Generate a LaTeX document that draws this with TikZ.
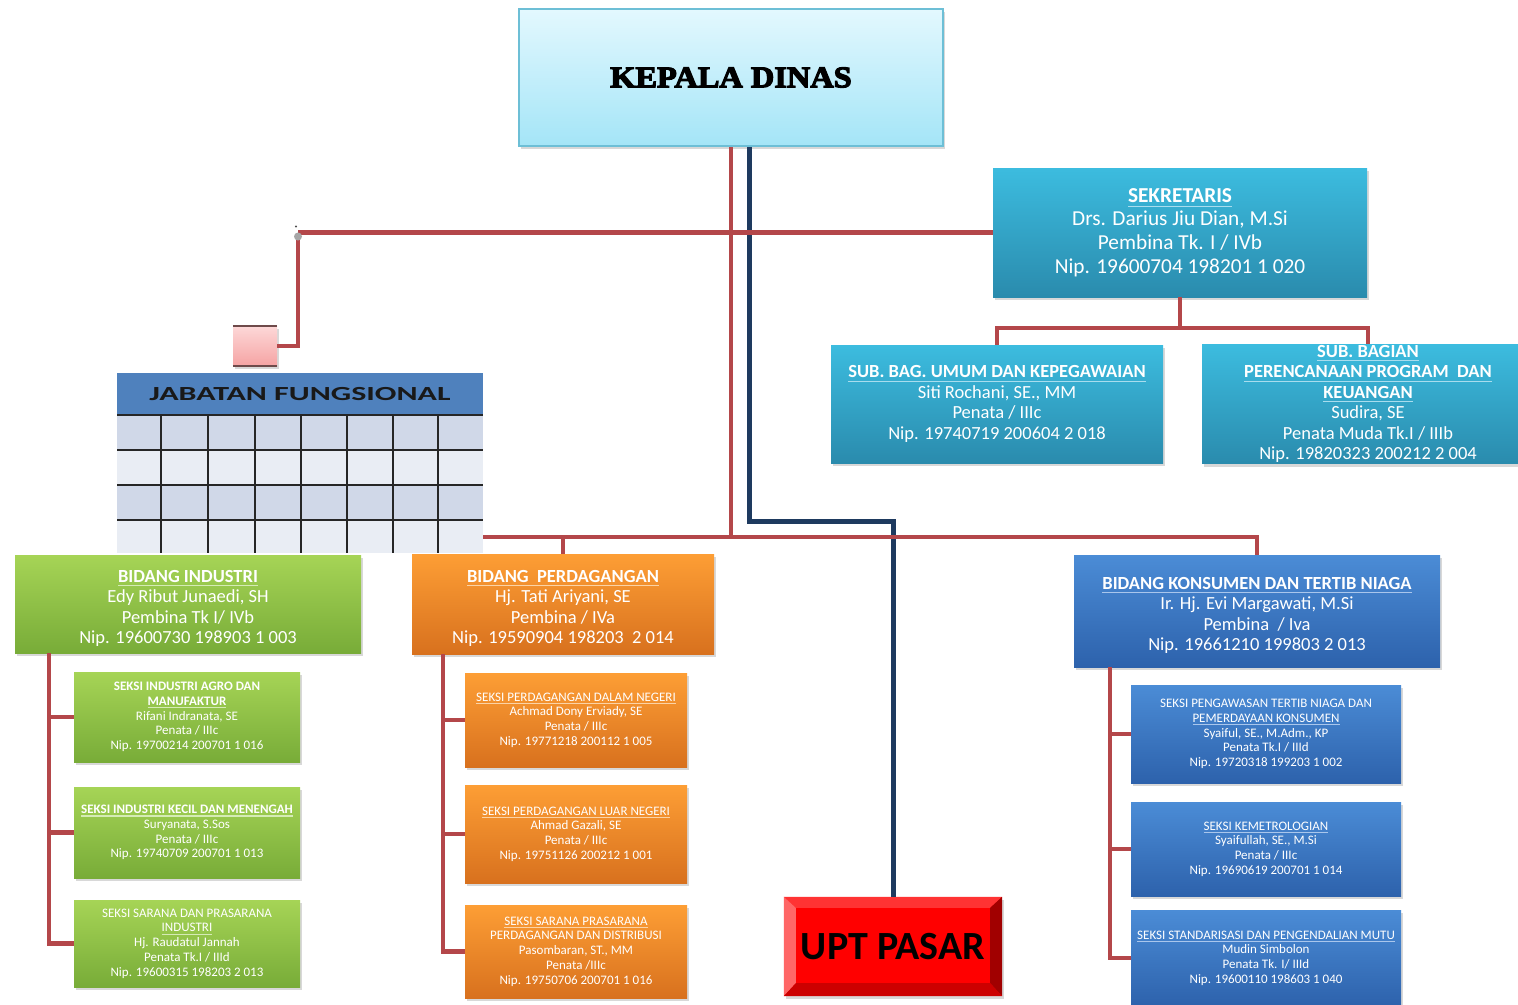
\documentclass[tikz,border=0pt]{standalone}
\usepackage{fontspec}
\setmainfont{Carlito}
\newfontfamily\kdfont[UprightFont={* Bold}, UprightFeatures={FakeBold=4, FakeStretch=1.08}]{Liberation Serif}
\usetikzlibrary{shadows,calc}
\definecolor{redL}{HTML}{B4474A}
\definecolor{blueL}{HTML}{1E3A5F}
\definecolor{kdT}{HTML}{E3F8FE}
\definecolor{kdB}{HTML}{A4E5F7}
\definecolor{kdD}{HTML}{6DBFD6}
\definecolor{tealT}{HTML}{3CBCDF}
\definecolor{tealB}{HTML}{2A8BAD}
\definecolor{tealU}{HTML}{A8DDEE}
\definecolor{greenT}{HTML}{A6D456}
\definecolor{greenB}{HTML}{78AC38}
\definecolor{greenU}{HTML}{D5EBB5}
\definecolor{orangeT}{HTML}{FD9E35}
\definecolor{orangeB}{HTML}{D8711E}
\definecolor{orangeU}{HTML}{FBD3A6}
\definecolor{blueT}{HTML}{4B8CD6}
\definecolor{blueB}{HTML}{2D62AC}
\definecolor{blueU}{HTML}{A9C6EC}
\definecolor{pinkT}{HTML}{FDD8D8}
\definecolor{pinkB}{HTML}{F5A3A3}
\definecolor{pinkD}{HTML}{6E4A4A}
\definecolor{hdr}{HTML}{4F81BD}
\definecolor{rowA}{HTML}{D0D8E8}
\definecolor{rowB}{HTML}{E9EDF4}
\newcommand\fsz[2]{\fontsize{#1}{#2}\selectfont}
\newcommand\myul[2]{\leavevmode\setbox0\hbox{#2}\rlap{\copy0}\raisebox{-0.22em}{\textcolor{#1}{\rule{\wd0}{1.2pt}}}}
\newcommand\pushdown{\rule{0pt}{21pt}}
\tikzset{
  redl/.style={draw=redL, line width=4.5pt},
  bluel/.style={draw=blueL, line width=5pt},
  box/.style={align=center, text=white, inner sep=1pt,
    drop shadow={shadow xshift=2pt, shadow yshift=-3pt, opacity=0.3}},
  tealbox/.style={box, top color=tealT, bottom color=tealB},
  greenbox/.style={box, top color=greenT, bottom color=greenB},
  orangebox/.style={box, top color=orangeT, bottom color=orangeB},
  bluebox/.style={box, top color=blueT, bottom color=blueB},
  big/.style={font=\fsz{18.5}{20.5}},
  small/.style={font=\fsz{13}{14.7}},
  gridl/.style={draw=black!85, line width=2pt},
}
\begin{document}
\begin{tikzpicture}[x=1pt,y=-1pt]
\useasboundingbox (0,0) rectangle (1518,1004);
\fill[white] (0,0) rectangle (1518,1004);

% ---------- main boxes ----------
\node[draw=kdD, line width=2pt, top color=kdT, bottom color=kdB,
  drop shadow={shadow xshift=2pt, shadow yshift=-3pt, opacity=0.3},
  minimum width=424pt, minimum height=137pt] (kd) at (731,77.5)
  {\kdfont\fsz{30}{32}KEPALA DINAS};

\node[tealbox, minimum width=374pt, minimum height=129pt, font=\fsz{21.3}{23.7}] (sek) at (1180,232.5)
  {\myul{tealU}{\bfseries SEKRETARIS}\\Drs. Darius Jiu Dian, M.Si\\Pembina Tk. I / IVb\\Nip. 19600704 198201 1 020};

\node[tealbox, big, minimum width=332pt, minimum height=118pt] (sbu) at (997,404)
  {\myul{tealU}{\bfseries SUB. BAG. UMUM DAN KEPEGAWAIAN}\\Siti Rochani, SE., MM\\Penata / IIIc\\Nip. 19740719 200604 2 018};

\node[tealbox, big, minimum width=332pt, minimum height=118pt] (sbp) at (1368,404)
  {\myul{tealU}{\bfseries SUB. BAGIAN}\\\myul{tealU}{\bfseries PERENCANAAN PROGRAM\ \ DAN}\\\myul{tealU}{\bfseries KEUANGAN}\\Sudira, SE\\Penata Muda Tk.I / IIIb\\Nip. 19820323 200212 2 004};

\node[greenbox, big, minimum width=346pt, minimum height=98pt] (ind) at (188,604)
  {\pushdown\myul{greenU}{\bfseries BIDANG INDUSTRI}\\Edy Ribut Junaedi, SH\\Pembina Tk I/ IVb\\Nip. 19600730 198903 1 003};

\node[orangebox, big, minimum width=302pt, minimum height=100pt] (per) at (563,604)
  {\pushdown\myul{orangeU}{\bfseries BIDANG\ \ PERDAGANGAN}\\Hj. Tati Ariyani, SE\\Pembina / IVa\\Nip. 19590904 198203\ \ 2 014};

\node[bluebox, big, minimum width=366pt, minimum height=112pt] (kon) at (1257,611)
  {\pushdown\myul{blueU}{\bfseries BIDANG KONSUMEN DAN TERTIB NIAGA}\\Ir. Hj. Evi Margawati, M.Si\\Pembina\ \ / Iva\\Nip. 19661210 199803 2 013};

% ---------- seksi ----------
\node[greenbox, small, minimum width=226pt, minimum height=90pt] (i1) at (187,717)
  {{\bfseries SEKSI INDUSTRI AGRO DAN}\\\myul{greenU}{\bfseries MANUFAKTUR}\\Rifani Indranata, SE\\Penata / IIIc\\Nip. 19700214 200701 1 016};
\node[greenbox, small, minimum width=226pt, minimum height=91pt] (i2) at (187,832.5)
  {\myul{greenU}{\bfseries SEKSI INDUSTRI KECIL DAN MENENGAH}\\Suryanata, S.Sos\\Penata / IIIc\\Nip. 19740709 200701 1 013};
\node[greenbox, small, minimum width=226pt, minimum height=87pt] (i3) at (187,943.5)
  {SEKSI SARANA DAN PRASARANA\\\myul{greenU}{INDUSTRI}\\Hj. Raudatul Jannah\\Penata Tk.I / IIId\\Nip. 19600315 198203 2 013};

\node[orangebox, small, minimum width=222pt, minimum height=94pt] (p1) at (576,720)
  {\myul{orangeU}{SEKSI PERDAGANGAN DALAM NEGERI}\\Achmad Dony Erviady, SE\\Penata / IIIc\\Nip. 19771218 200112 1 005};
\node[orangebox, small, minimum width=222pt, minimum height=98pt] (p2) at (576,834)
  {\myul{orangeU}{SEKSI PERDAGANGAN LUAR NEGERI}\\Ahmad Gazali, SE\\Penata / IIIc\\Nip. 19751126 200212 1 001};
\node[orangebox, small, minimum width=222pt, minimum height=93pt] (p3) at (576,951.5)
  {\myul{orangeU}{SEKSI SARANA PRASARANA}\\PERDAGANGAN DAN DISTRIBUSI\\Pasombaran, ST., MM\\Penata /IIIc\\Nip. 19750706 200701 1 016};

\node[bluebox, small, minimum width=270pt, minimum height=98pt] (k1) at (1266,734)
  {SEKSI PENGAWASAN TERTIB NIAGA DAN\\\myul{blueU}{PEMERDAYAAN KONSUMEN}\\Syaiful, SE., M.Adm., KP\\Penata Tk.I / IIId\\Nip. 19720318 199203 1 002};
\node[bluebox, small, minimum width=270pt, minimum height=94pt] (k2) at (1266,849)
  {\myul{blueU}{SEKSI KEMETROLOGIAN}\\Syaifullah, SE., M.Si\\Penata / IIIc\\Nip. 19690619 200701 1 014};
\node[bluebox, small, minimum width=270pt, minimum height=96pt] (k3) at (1266,958)
  {\myul{blueU}{SEKSI STANDARISASI DAN PENGENDALIAN MUTU}\\Mudin Simbolon\\Penata Tk. I/ IIId\\Nip. 19600110 198603 1 040};

% ---------- UPT PASAR ----------
\node[fill=red, minimum width=218pt, minimum height=99pt, font=\bfseries\fsz{40}{42}, text=black,
  drop shadow={shadow xshift=2pt, shadow yshift=-3pt, opacity=0.3}] (upt) at (893,946.5) {UPT PASAR};
\fill[red!80!white] (upt.north west) -- (upt.north east) -- ($(upt.north east)+(-12,11)$) -- ($(upt.north west)+(12,11)$) -- cycle;
\fill[red!60!white] (upt.north west) -- ($(upt.north west)+(12,11)$) -- ($(upt.south west)+(12,-13)$) -- (upt.south west) -- cycle;
\fill[red!63!black] (upt.north east) -- ($(upt.north east)+(-12,11)$) -- ($(upt.south east)+(-12,-13)$) -- (upt.south east) -- cycle;
\fill[red!80!black] (upt.south west) -- ($(upt.south west)+(12,-13)$) -- ($(upt.south east)+(-12,-13)$) -- (upt.south east) -- cycle;

% ---------- small pink box ----------
\node[top color=pinkT, bottom color=pinkB, minimum width=44pt, minimum height=40pt, inner sep=0pt,
  drop shadow={shadow xshift=2pt, shadow yshift=-3pt, opacity=0.3}] (pink) at (255,346) {};
\draw[pinkD, line width=2pt] (pink.north west) -- (pink.north east);
\draw[pinkD, line width=2pt] (pink.south west) -- (pink.south east);

% ---------- connectors ----------
\coordinate (hb) at (731,537);
\coordinate (hl) at (483,537);
\coordinate (jn) at (298,232.5);
\draw[bluel] ([xshift=18pt]kd.south) -- ++(0,374) -| (upt.north);
\draw[redl] (kd.south) -- (hb);
\draw[redl] (jn) -- (sek.west);
\draw[redl] ([yshift=-4pt]jn) |- (pink.east);
\fill[gray!70] ([yshift=-4pt]jn) circle (4pt);
\fill[black!70] ([shift={(-2,-6)}]jn) circle (1.2pt);
\draw[redl] (sek.south) -- ++(0,31) -| (sbu.north);
\draw[redl] (sek.south) -- ++(0,31) -| (sbp.north);
\draw[redl] (hl) -| (kon.north);
\draw[redl] (per.north |- hl) -- (per.north);
\coordinate (iv) at ([xshift=34pt]ind.south west);
\draw[redl] (iv) |- (i1.west);
\draw[redl] (iv) |- (i2.west);
\draw[redl] (iv) |- (i3.west);
\coordinate (pv) at ([xshift=31pt]per.south west);
\draw[redl] (pv) |- (p1.west);
\draw[redl] (pv) |- (p2.west);
\draw[redl] (pv) |- (p3.west);
\coordinate (kv) at ([xshift=36pt]kon.south west);
\draw[redl] (kv) |- (k1.west);
\draw[redl] (kv) |- (k2.west);
\draw[redl] (kv) |- (k3.west);

% ---------- jabatan fungsional table ----------
\fill[hdr] (117,373) rectangle (483,415);
\fill[rowA] (117,415) rectangle (483,450);
\fill[rowB] (117,450) rectangle (483,485);
\fill[rowA] (117,485) rectangle (483,520);
\fill[rowB] (117,520) rectangle (483,553);
\foreach \yy in {415,450,485,520} \draw[gridl] (117,\yy) -- (483,\yy);
\foreach \xx in {161,208,255,301,347,393,438} \draw[gridl] (\xx,415) -- (\xx,553);
\node[font=\bfseries\fsz{20}{22}, text=black!90] (jf) at (300,394) {\scalebox{1.6}[1]{JABATAN FUNGSIONAL}};
\end{tikzpicture}
\end{document}
